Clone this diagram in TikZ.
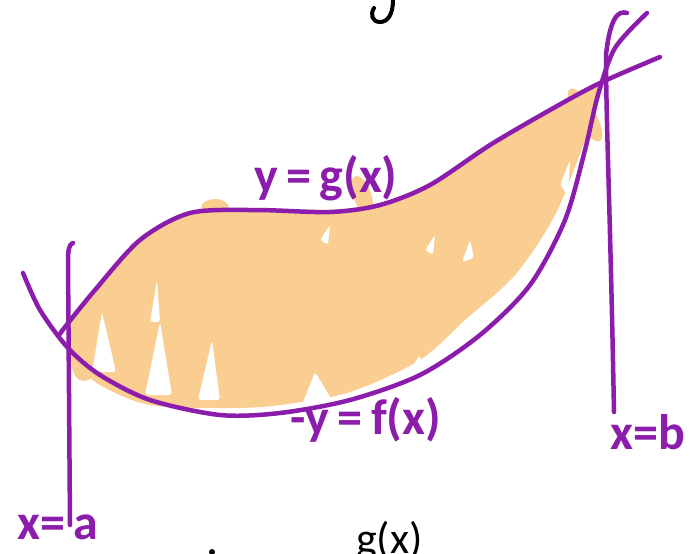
\documentclass[tikz,border=0pt]{standalone}
\usepackage{fontspec}
\setmainfont{Carlito}
\definecolor{pur}{RGB}{140,28,172}
\definecolor{org}{RGB}{250,205,145}
\begin{document}
\begin{tikzpicture}[x=1pt,y=-1pt,
  curve/.style={draw=pur, line width=4.5pt, line cap=round, line join=round},
  gap/.style={fill=white, rounded corners=3pt},
  lbl/.style={text=pur, font=\fontsize{50}{50}\selectfont\bfseries, inner sep=0pt},
  blk/.style={text=black, font=\fontsize{44}{44}\selectfont, inner sep=0pt}]
\useasboundingbox (0,0) rectangle (699,554);
\fill[white] (0,0) rectangle (699,554);
\clip (0,0) rectangle (699,554);
% shaded region
\fill[org] plot[smooth] coordinates {(68,323) (95,290) (140,240) (190,213) (255,210) (330,212) (380,205) (430,185) (490,145) (550,110) (598,86)}
  -- plot[smooth] coordinates {(600,92) (585,140) (555,215) (515,275) (465,320) (420,360) (350,392) (280,405) (230,408) (150,405) (100,385) (70,360)} -- cycle;
\fill[org] (215,208) ellipse [x radius=14, y radius=9];
\fill[org, rotate around={-70:(362,195)}] (362,195) ellipse [x radius=20, y radius=9];
\fill[org, rotate around={-60:(585,115)}] (585,115) ellipse [x radius=30, y radius=10];
\fill[org] (84,365) ellipse [x radius=12, y radius=16];
% scribble gaps
\fill[gap] (92,372) -- (102,312) -- (116,372) -- cycle;
\fill[gap] (145,395) -- (160,322) -- (172,395) -- cycle;
\fill[gap] (198,400) -- (212,340) -- (220,400) -- cycle;
\fill[gap] (150,322) -- (157,280) -- (160,322) -- cycle;
\fill[gap] (300,410) -- (315,372) -- (335,405) -- cycle;
\fill[gap] (392,395) -- (420,355) -- (425,385) -- cycle;
\fill[gap] (462,262) -- (470,240) -- (474,258) -- cycle;
\fill[gap] (425,250) -- (435,235) -- (433,255) -- cycle;
\fill[gap] (560,185) -- (570,160) -- (568,195) -- cycle;
\fill[gap] (320,240) -- (330,225) -- (328,245) -- cycle;
% curves
\draw[curve] plot[smooth] coordinates {(60,334) (65,327) (95,290) (140,240) (190,213) (255,210) (330,212) (380,205) (430,185) (490,145) (550,110) (600,83) (660,57)};
\draw[curve] plot[smooth] coordinates {(23,273) (40,310) (68,348) (100,375) (150,400) (220,415) (280,413) (350,400) (420,375) (480,335) (530,285) (565,220) (585,150) (598,95) (615,48) (647,13)};
% vertical lines
\coordinate (a1) at (73,243);
\coordinate (a2) at (70,525);
\draw[curve] (a1) .. controls (69,244) and (68,250) .. (68,262) -- (a2);
\coordinate (b1) at (627,13);
\coordinate (b2) at (614,412);
\draw[curve] (b1) .. controls (618,10) and (610,18) .. (606,55) .. controls (606,120) and (610,200) .. (b2);
% labels
\node[lbl] (gl) at (326,178) {y\,=\,g(x)};
\node[lbl] (fl) at (366,420) {-y\,=\,f(x)};
\node[lbl] (bl) at (648,432) {x=b};
\node[lbl] (al) at (58,527) {x=\,a};
% cut-off black content
\draw[line width=4pt, line cap=round] (393,0) .. controls (393,14) and (388,22) .. (380,22) .. controls (372,22) and (370,14) .. (374,8);
\node[blk, anchor=north west] (gx) at (356,521) {g(x)};
\fill (212,552) circle [radius=3];
\end{tikzpicture}
\end{document}
